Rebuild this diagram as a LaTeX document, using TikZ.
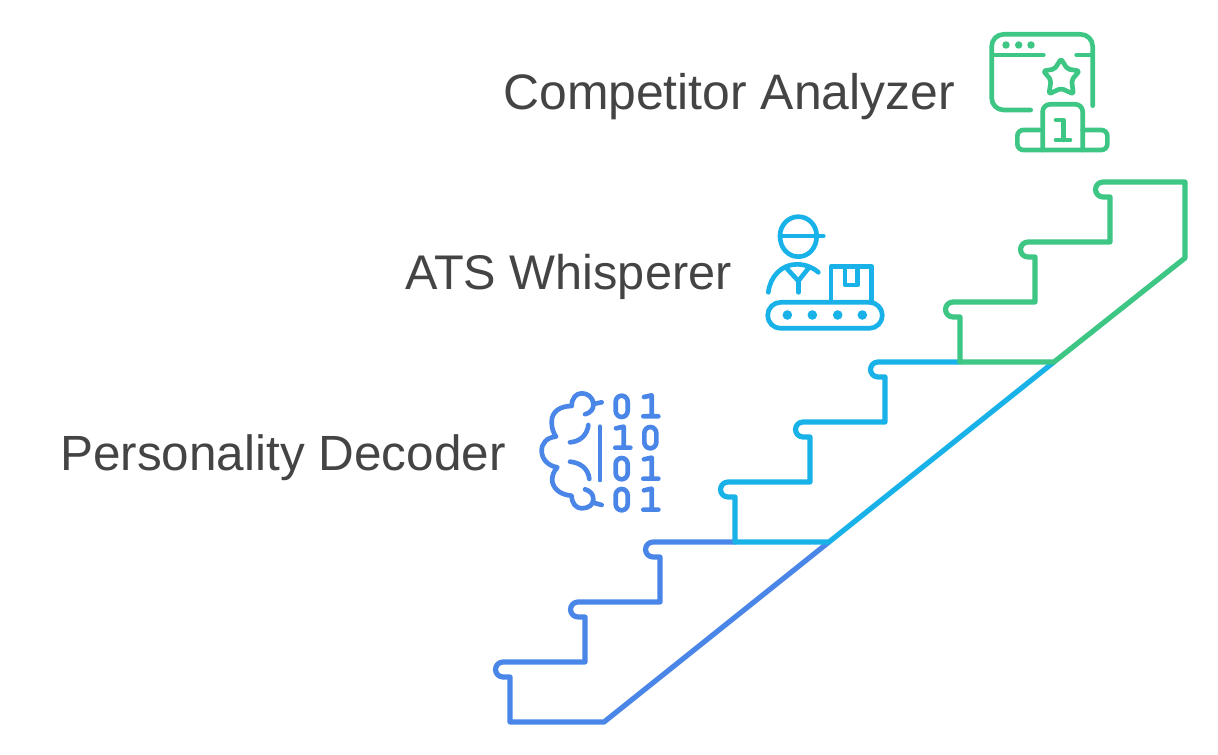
\documentclass[tikz,border=0pt]{standalone}
\usepackage{fontspec}
\setmainfont{Liberation Sans}
\definecolor{cblue}{HTML}{4A86E8}
\definecolor{ccyan}{HTML}{18B2E8}
\definecolor{cgreen}{HTML}{3EC684}
\definecolor{ctext}{HTML}{444444}
\tikzset{
  stair/.style={line width=3.9pt,line join=round,line cap=round},
  ico/.style={line width=3.5pt,line join=round,line cap=round},
  lab/.style={anchor=base west,inner sep=0pt,text=ctext},
  zoomed/.style={x=.25pt,y=-.25pt}
}
\newcommand{\nubb}{.. controls +(-4.1,0) and +(0,-4.1) .. ++(-7.5,7.5) .. controls +(0,4.1) and +(-4.1,0) .. ++(7.5,7.5)}
\newcommand{\zerod}[1]{\draw[ico,rounded corners=4.6pt] (#1) ++(0,-31) rectangle ++(36,64);}
\newcommand{\oned}[1]{\draw[ico] (#1) ++(0,-27) -- ++(23,-5) -- ++(0,63) ++(-25,0) -- ++(45,0);}
\begin{document}
\begin{tikzpicture}[x=.75pt,y=-.75pt]
\useasboundingbox (0,0) rectangle (1218,755);
% stairs
\draw[stair,cblue] (735,542) -- (653,542) \nubb -- (660,557) -- (660,602) -- (578,602) \nubb -- (585,617) -- (585,662) -- (503,662) \nubb -- (510,677) -- (510,722) -- (604,722) -- (829,542);
\draw[stair,ccyan] (960,362) -- (878,362) \nubb -- (885,377) -- (885,422) -- (803,422) \nubb -- (810,437) -- (810,482) -- (728,482) \nubb -- (735,497) -- (735,542) -- (829,542) -- (1054,362);
\draw[stair,cgreen] (1185,182) -- (1103,182) \nubb -- (1110,197) -- (1110,242) -- (1028,242) \nubb -- (1035,257) -- (1035,302) -- (953,302) \nubb -- (960,317) -- (960,362) -- (1054,362) -- (1185,258) -- cycle;
% labels
\node[lab,font=\fontsize{37.4}{44}\selectfont] (analyzer) at (503,110) {Competitor Analyzer};
\node[lab,font=\fontsize{36.5}{44}\selectfont] (whisperer) at (405,290) {ATS Whisperer};
\node[lab,font=\fontsize{37.1}{44}\selectfont] (decoder) at (60,471) {Personality Decoder};
% brain icon
\begin{scope}[shift={(530,380)},zoomed,cblue]
\draw[ico] (165,103) .. controls (180,99) and (192,88) .. (190,72) .. controls (188,50) and (172,40) .. (155,40) .. controls (138,40) and (125,55) .. (125,78) .. controls (90,78) and (65,95) .. (65,125) .. controls (65,145) and (70,158) .. (78,170) .. controls (50,172) and (35,190) .. (35,212) .. controls (35,238) and (55,258) .. (82,262) .. controls (70,275) and (65,290) .. (67,305) .. controls (72,330) and (95,345) .. (125,347) .. controls (125,370) and (138,385) .. (155,385) .. controls (175,385) and (190,375) .. (190,358) .. controls (190,342) and (180,332) .. (165,328);
\draw[ico] (190,72) -- (215,67);
\draw[ico] (190,368) -- (215,375);
\draw[ico] (175,135) .. controls (172,165) and (150,185) .. (120,187);
\draw[ico] (120,245) .. controls (150,248) and (175,265) .. (178,297);
\draw[ico] (210,140) -- (210,300);
\zerod{257,78}\oned{342,78}
\oned{258,172}\zerod{343,172}
\zerod{257,265}\oned{342,265}
\zerod{257,358}\oned{342,358}
\end{scope}
% worker icon
\begin{scope}[shift={(755,205)},zoomed,ccyan]
\draw[ico] (130,35) .. controls (160,35) and (185,60) .. (185,93) .. controls (185,130) and (160,155) .. (130,155) .. controls (100,155) and (75,130) .. (75,93) .. controls (75,60) and (100,35) .. (130,35) -- cycle;
\draw[ico] (75,93) -- (205,93);
\draw[ico] (40,262) .. controls (45,215) and (80,178) .. (125,178) .. controls (150,178) and (172,186) .. (190,202);
\draw[ico] (95,190) -- (130,228) -- (160,190);
\draw[ico] (130,228) -- (130,262);
\draw[ico] (228,290) -- (228,185) -- (350,185) -- (350,290);
\draw[ico] (270,190) -- (270,240) -- (308,240) -- (308,190);
\draw[ico,rounded corners=9.75pt] (38,292) rectangle (382,370);
\foreach \px in {97,172,248,322} \fill (\px,330) circle[radius=3.6pt];
\end{scope}
% podium icon
\begin{scope}[shift={(980,25)},zoomed,cgreen]
\draw[ico,rounded corners=9pt] (338,242) -- (338,28) -- (35,28) -- (35,255) -- (152,255);
\draw[ico] (40,90) -- (190,90);
\draw[ico] (290,90) -- (335,90);
\foreach \px in {78,116,153} \fill (\px,60) circle[radius=2.8pt];
\draw[ico,rounded corners=1.6pt] (243,102) -- (262,132) -- (298,138) -- (275,165) -- (280,207) -- (243,190) -- (207,207) -- (213,165) -- (190,138) -- (224,132) -- cycle;
\draw[ico,rounded corners=5.5pt] (188,375) -- (188,238) -- (308,238) -- (308,375);
\draw[ico,rounded corners=4.5pt] (188,315) -- (112,315) -- (112,375) -- (382,375) -- (382,315) -- (308,315);
\draw[ico] (228,285) -- (250,285) -- (250,345);
\draw[ico] (228,345) -- (270,345);
\end{scope}
\end{tikzpicture}
\end{document}
